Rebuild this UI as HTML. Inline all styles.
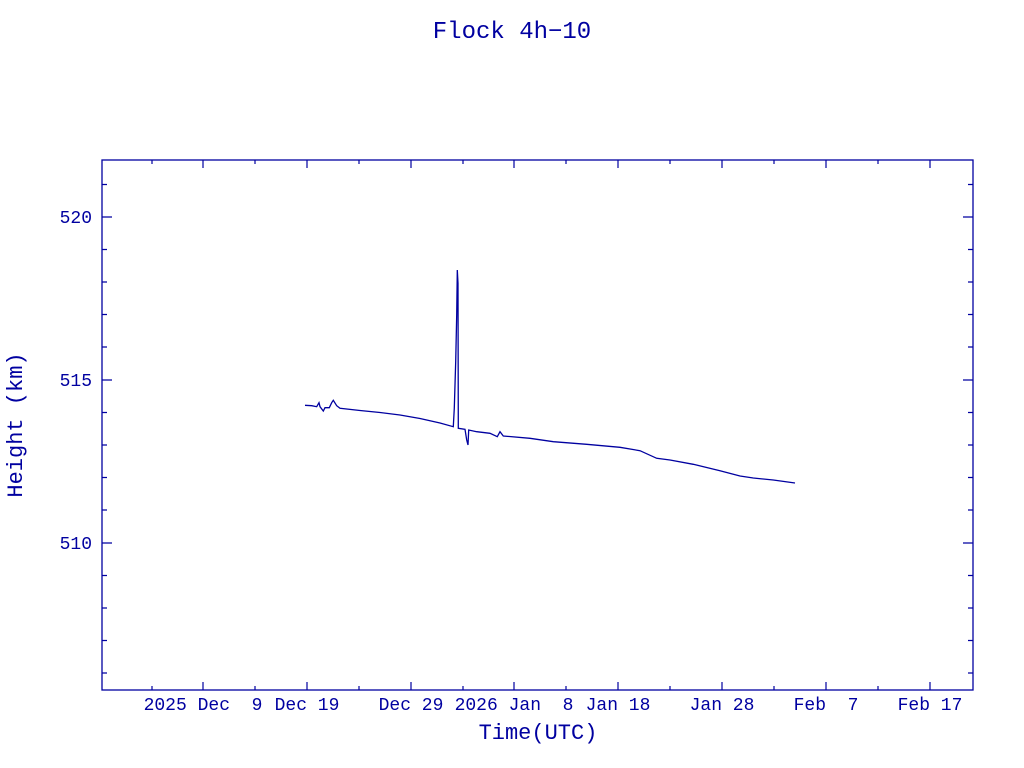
<!DOCTYPE html>
<html><head><meta charset="utf-8"><style>
html,body{margin:0;padding:0;background:#fff;}
svg{display:block;}
text{font-family:"Liberation Mono",monospace;fill:#0000a0;font-size:18px;}
</style></head><body>
<svg width="1024" height="768" viewBox="0 0 1024 768" xmlns="http://www.w3.org/2000/svg">
<text x="512" y="38" text-anchor="middle" style="font-size:24px">Flock 4h−10</text>
<rect x="102" y="160" width="871" height="530" fill="none" stroke="#0000a0" stroke-width="1.3"/>
<g stroke="#0000a0" stroke-width="1.2">
<path d="M102 217h10M973 217h-10M102 380h10M973 380h-10M102 543h10M973 543h-10"/>
<path d="M102 184.5h5M973 184.5h-5M102 249.5h5M973 249.5h-5M102 282h5M973 282h-5M102 314.5h5M973 314.5h-5M102 347h5M973 347h-5M102 412.5h5M973 412.5h-5M102 445h5M973 445h-5M102 477.5h5M973 477.5h-5M102 510h5M973 510h-5M102 575.5h5M973 575.5h-5M102 608h5M973 608h-5M102 640.5h5M973 640.5h-5M102 673h5M973 673h-5"/>
<path d="M203 690v-8M307 690v-8M411 690v-8M514 690v-8M618 690v-8M722 690v-8M826 690v-8M930 690v-8M203 160v8M307 160v8M411 160v8M514 160v8M618 160v8M722 160v8M826 160v8M930 160v8"/>
<path d="M152 690v-4M255 690v-4M359 690v-4M463 690v-4M566 690v-4M670 690v-4M774 690v-4M878 690v-4M152 160v4M255 160v4M359 160v4M463 160v4M566 160v4M670 160v4M774 160v4M878 160v4"/>
</g>
<g text-anchor="end">
<text x="92" y="223">520</text>
<text x="92" y="386">515</text>
<text x="92" y="549">510</text>
</g>
<g text-anchor="middle">
<text x="203" y="710" xml:space="preserve">2025 Dec  9</text>
<text x="307" y="710">Dec 19</text>
<text x="411" y="710">Dec 29</text>
<text x="514" y="710" xml:space="preserve">2026 Jan  8</text>
<text x="618" y="710">Jan 18</text>
<text x="722" y="710">Jan 28</text>
<text x="826" y="710" xml:space="preserve">Feb  7</text>
<text x="930" y="710">Feb 17</text>
<text x="538" y="739" style="font-size:22px">Time(UTC)</text>
<text transform="translate(22,425) rotate(-90)" style="font-size:22px">Height (km)</text>
</g>
<polyline fill="none" stroke="#0000a0" stroke-width="1.3" points="305,405.3 311.7,405.7 316.7,406.7 319,402.7 320,406.7 323.3,411 325,407.7 329.3,407.7 331.7,402.7 333.3,400.3 336.7,405.7 340,408.3 360,410.5 380,412.5 400,415 420,418.5 440,423 453.3,426.7 454.3,408 455.7,361.7 456.7,315 457.3,270 458,283.3 458.3,428.3 465,429.3 466.7,440 468,445 468.7,430 476.7,431.7 490,433.3 497.3,436.7 500,431.7 503.3,436 530,438.3 553.3,441.7 586.7,444.3 620,447.3 640,450.7 656.7,458.3 670,460 693.3,464.3 720,470.7 740,476 753.3,478 773.3,480 795,483"/>
</svg>
</body></html>
